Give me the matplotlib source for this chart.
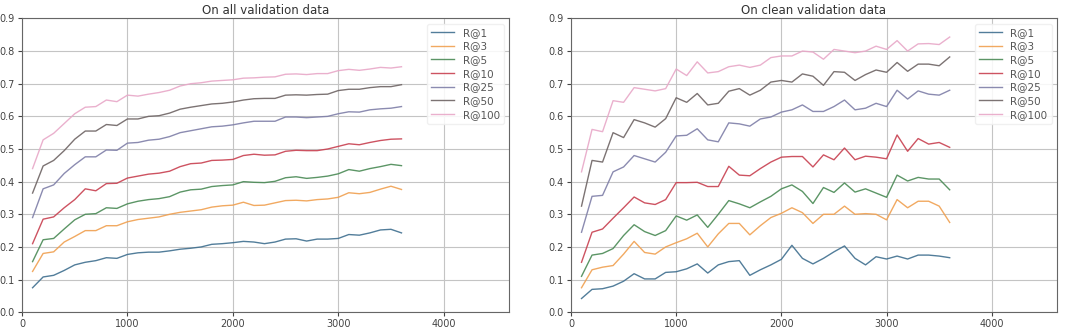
import matplotlib
matplotlib.use("Agg")
import matplotlib.pyplot as plt

steps = [100 * i for i in range(1, 37)]
labels = ["R@1", "R@3", "R@5", "R@10", "R@25", "R@50", "R@100"]

all_r1 = [0.075, 0.108, 0.113, 0.128, 0.145, 0.153, 0.158, 0.167, 0.165, 0.177, 0.182, 0.184,
          0.184, 0.188, 0.193, 0.196, 0.200, 0.208, 0.210, 0.213, 0.217, 0.215, 0.210, 0.215,
          0.224, 0.225, 0.218, 0.224, 0.224, 0.226, 0.238, 0.236, 0.243, 0.252, 0.254, 0.243]
all_r3 = [0.125, 0.180, 0.185, 0.215, 0.232, 0.250, 0.250, 0.265, 0.265, 0.277, 0.284, 0.288,
          0.292, 0.300, 0.306, 0.310, 0.314, 0.322, 0.326, 0.328, 0.337, 0.327, 0.328, 0.335,
          0.342, 0.343, 0.341, 0.345, 0.347, 0.352, 0.366, 0.363, 0.367, 0.377, 0.386, 0.376]
all_r5 = [0.155, 0.222, 0.226, 0.255, 0.283, 0.300, 0.302, 0.320, 0.318, 0.332, 0.340, 0.345,
          0.348, 0.354, 0.368, 0.375, 0.377, 0.385, 0.388, 0.390, 0.400, 0.398, 0.397, 0.401,
          0.412, 0.415, 0.410, 0.413, 0.417, 0.424, 0.437, 0.432, 0.440, 0.446, 0.453, 0.449]
all_r10 = [0.210, 0.285, 0.292, 0.320, 0.345, 0.378, 0.372, 0.394, 0.395, 0.411, 0.417, 0.423,
           0.426, 0.432, 0.446, 0.455, 0.457, 0.465, 0.466, 0.468, 0.480, 0.484, 0.481, 0.482,
           0.493, 0.496, 0.495, 0.495, 0.500, 0.508, 0.516, 0.513, 0.520, 0.526, 0.530, 0.531]
all_r25 = [0.290, 0.378, 0.390, 0.425, 0.452, 0.476, 0.476, 0.497, 0.496, 0.518, 0.520, 0.527,
           0.530, 0.538, 0.550, 0.556, 0.562, 0.568, 0.570, 0.574, 0.580, 0.585, 0.585, 0.585,
           0.598, 0.598, 0.596, 0.598, 0.600, 0.608, 0.614, 0.613, 0.620, 0.623, 0.625, 0.630]
all_r50 = [0.365, 0.448, 0.465, 0.495, 0.530, 0.555, 0.555, 0.575, 0.572, 0.592, 0.592, 0.600,
           0.602, 0.610, 0.622, 0.628, 0.633, 0.638, 0.640, 0.644, 0.650, 0.654, 0.655, 0.655,
           0.665, 0.666, 0.665, 0.667, 0.668, 0.679, 0.683, 0.683, 0.688, 0.691, 0.691, 0.697]
all_r100 = [0.440, 0.528, 0.548, 0.578, 0.608, 0.628, 0.630, 0.650, 0.645, 0.665, 0.662, 0.668,
            0.673, 0.680, 0.693, 0.700, 0.703, 0.708, 0.710, 0.712, 0.717, 0.718, 0.720, 0.721,
            0.729, 0.730, 0.728, 0.731, 0.731, 0.740, 0.744, 0.741, 0.745, 0.750, 0.748, 0.752]

clean_r1 = [0.042, 0.070, 0.072, 0.080, 0.095, 0.118, 0.102, 0.102, 0.122, 0.124, 0.133, 0.148,
            0.120, 0.145, 0.155, 0.158, 0.113, 0.130, 0.145, 0.162, 0.205, 0.165, 0.148, 0.165,
            0.185, 0.203, 0.165, 0.145, 0.170, 0.163, 0.172, 0.163, 0.175, 0.175, 0.172, 0.167]
clean_r3 = [0.075, 0.130, 0.138, 0.143, 0.178, 0.217, 0.183, 0.178, 0.200, 0.213, 0.225, 0.242,
            0.200, 0.240, 0.272, 0.272, 0.237, 0.265, 0.290, 0.303, 0.320, 0.305, 0.272, 0.300,
            0.300, 0.325, 0.300, 0.302, 0.300, 0.283, 0.345, 0.320, 0.340, 0.340, 0.325, 0.275]
clean_r5 = [0.110, 0.175, 0.180, 0.195, 0.235, 0.268, 0.247, 0.235, 0.250, 0.295, 0.282, 0.298,
            0.260, 0.300, 0.342, 0.332, 0.320, 0.338, 0.355, 0.378, 0.390, 0.370, 0.333, 0.382,
            0.367, 0.396, 0.368, 0.378, 0.365, 0.352, 0.420, 0.402, 0.413, 0.408, 0.408, 0.375]
clean_r10 = [0.153, 0.245, 0.255, 0.288, 0.320, 0.353, 0.335, 0.330, 0.345, 0.397, 0.397, 0.398,
             0.385, 0.385, 0.447, 0.420, 0.418, 0.440, 0.460, 0.475, 0.477, 0.477, 0.445, 0.482,
             0.467, 0.503, 0.467, 0.478, 0.475, 0.470, 0.543, 0.493, 0.532, 0.515, 0.520, 0.505]
clean_r25 = [0.245, 0.355, 0.358, 0.430, 0.445, 0.480, 0.470, 0.460, 0.490, 0.540, 0.542, 0.562,
             0.528, 0.522, 0.580, 0.577, 0.570, 0.592, 0.598, 0.613, 0.620, 0.635, 0.615, 0.615,
             0.630, 0.650, 0.620, 0.625, 0.640, 0.630, 0.680, 0.653, 0.678, 0.668, 0.665, 0.680]
clean_r50 = [0.325, 0.465, 0.460, 0.550, 0.535, 0.590, 0.580, 0.567, 0.593, 0.657, 0.643, 0.670,
             0.635, 0.640, 0.677, 0.685, 0.665, 0.680, 0.705, 0.710, 0.705, 0.730, 0.723, 0.695,
             0.737, 0.735, 0.710, 0.728, 0.742, 0.735, 0.765, 0.738, 0.760, 0.760, 0.755, 0.782]
clean_r100 = [0.430, 0.560, 0.553, 0.648, 0.643, 0.688, 0.683, 0.678, 0.685, 0.745, 0.725, 0.767,
              0.733, 0.737, 0.752, 0.757, 0.750, 0.757, 0.780, 0.785, 0.785, 0.800, 0.797, 0.775,
              0.805, 0.800, 0.795, 0.800, 0.815, 0.805, 0.832, 0.800, 0.822, 0.823, 0.820, 0.843]

all_series = [all_r1, all_r3, all_r5, all_r10, all_r25, all_r50, all_r100]
clean_series = [clean_r1, clean_r3, clean_r5, clean_r10, clean_r25, clean_r50, clean_r100]
titles = ["On all validation data", "On clean validation data"]

colors = ["#3f6f8f", "#f0a050", "#4a8a55", "#c84050", "#7f7fa8", "#6e6464", "#e8a8c8"]

fig = plt.figure(figsize=(10.8, 3.29), dpi=100)
ax1 = fig.add_axes([0.0204, 0.051, 0.4509, 0.893])
ax2 = fig.add_axes([0.5287, 0.051, 0.4500, 0.893])

for ax, series, title in zip([ax1, ax2], [all_series, clean_series], titles):
    for s, lab, c in zip(series, labels, colors):
        ax.plot(steps, s, color=c, lw=1.0, alpha=0.9, label=lab)
    ax.set_xlim(0, 4620)
    ax.set_ylim(0, 0.9)
    ax.set_yticks([i / 10 for i in range(10)])
    ax.set_xticks([0, 1000, 2000, 3000, 4000])
    ax.grid(True, color="#c4c4c4", lw=0.8)
    ax.set_title(title, fontsize=8.5, pad=3, color="#333333")
    ax.tick_params(labelsize=7, colors="#444444", length=3, pad=2)
    for sp in ax.spines.values():
        sp.set_color("#666666")
    ax.legend(loc="upper right", fontsize=7.5, frameon=True, framealpha=0.85,
              edgecolor="#eeeeee", handlelength=2.2, labelspacing=0.35,
              labelcolor="#555555")

fig.savefig("out.png", dpi=100)
